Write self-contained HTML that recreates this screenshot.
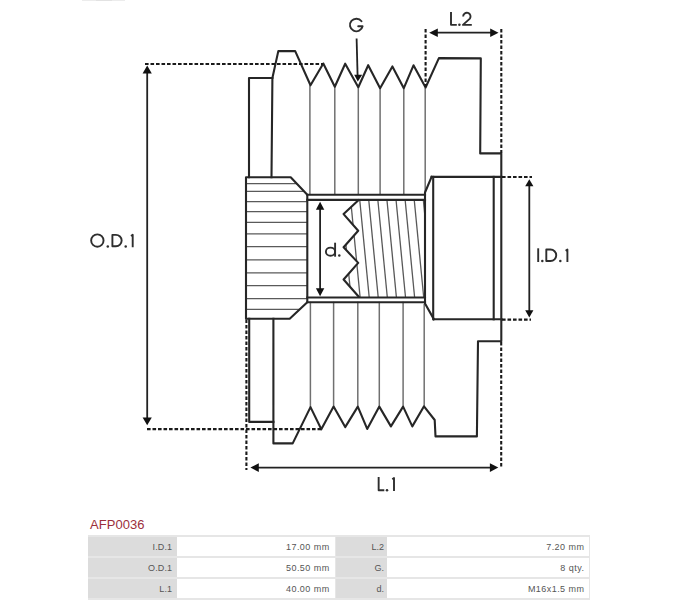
<!DOCTYPE html>
<html>
<head>
<meta charset="utf-8">
<style>
html,body{margin:0;padding:0;background:#fff;}
body{width:674px;height:600px;position:relative;overflow:hidden;font-family:"Liberation Sans",sans-serif;}
svg{position:absolute;left:0;top:0;}
.lbl{position:absolute;font-family:"Liberation Sans",sans-serif;color:#2a2a2a;white-space:nowrap;line-height:1;}
#code{position:absolute;left:90px;top:518px;font-size:13px;letter-spacing:0.05px;color:#9c2f3b;line-height:1;}
.c{position:absolute;box-sizing:border-box;font-size:9px;letter-spacing:0.45px;color:#555;text-align:right;white-space:nowrap;}
.k{background:#dcdcdc;letter-spacing:0.1px;}
.v{background:#fff;}
</style>
</head>
<body>
<svg width="674" height="600" viewBox="0 0 674 600">
  <defs>
    <clipPath id="thr">
      <polygon points="359.2,199.5 343.6,214.1 358.2,230.7 343.6,247.3 358.2,262.9 343.6,279.5 359.2,297.2 425,297.2 425,199.5"/>
    </clipPath>
    <clipPath id="knc">
      <polygon points="246,177.3 290.7,177.3 307.3,194.7 307.3,302.2 289.7,318.8 246,318.8"/>
    </clipPath>
  </defs>
  <!-- faint top line -->
  <line x1="82" y1="0.5" x2="125" y2="0.5" stroke="#ececec" stroke-width="1"/>
  <line x1="96" y1="0.5" x2="112" y2="0.5" stroke="#e2e2e2" stroke-width="1"/>

  <g fill="none" stroke="#707070" stroke-width="1.5">
    <!-- valley lines top -->
    <line x1="309.9" y1="85.3" x2="309.9" y2="194.7"/>
    <line x1="334.8" y1="86.7" x2="334.8" y2="194.7"/>
    <line x1="358.3" y1="87.2" x2="358.3" y2="194.7"/>
    <line x1="380.1" y1="88.2" x2="380.1" y2="194.7"/>
    <line x1="403.8" y1="88.2" x2="403.8" y2="194.7"/>
    <line x1="425.2" y1="87.5" x2="425.2" y2="192.5"/>
    <!-- valley lines bottom -->
    <line x1="310.4" y1="301.8" x2="310.4" y2="407.1"/>
    <line x1="333.6" y1="301.8" x2="333.6" y2="406.6"/>
    <line x1="357.8" y1="301.8" x2="357.8" y2="406.6"/>
    <line x1="379.3" y1="301.8" x2="379.3" y2="406.6"/>
    <line x1="403.1" y1="301.8" x2="403.1" y2="406.6"/>
    <line x1="424.2" y1="304" x2="424.2" y2="406.3"/>
  </g>

  <!-- knurl lines -->
  <g clip-path="url(#knc)" stroke="#5a5a5a" stroke-width="1.3">
    <line x1="246" y1="183.6" x2="310" y2="183.6"/>
    <line x1="246" y1="191.3" x2="310" y2="191.3"/>
    <line x1="246" y1="201.7" x2="310" y2="201.7"/>
    <line x1="246" y1="211.7" x2="310" y2="211.7"/>
    <line x1="246" y1="222.3" x2="310" y2="222.3"/>
    <line x1="246" y1="233.8" x2="310" y2="233.8"/>
    <line x1="246" y1="246.7" x2="310" y2="246.7"/>
    <line x1="246" y1="259.9" x2="310" y2="259.9"/>
    <line x1="246" y1="272.9" x2="310" y2="272.9"/>
    <line x1="246" y1="285.7" x2="310" y2="285.7"/>
    <line x1="246" y1="298.7" x2="310" y2="298.7"/>
    <line x1="246" y1="309.3" x2="310" y2="309.3"/>
  </g>

  <!-- thread lines -->
  <g clip-path="url(#thr)" stroke="#585858" stroke-width="1.3">
    <line x1="332.4" y1="199.5" x2="341.9" y2="297.2"/>
    <line x1="341.5" y1="199.5" x2="351.0" y2="297.2"/>
    <line x1="350.6" y1="199.5" x2="360.1" y2="297.2"/>
    <line x1="359.7" y1="199.5" x2="369.2" y2="297.2"/>
    <line x1="368.7" y1="199.5" x2="378.2" y2="297.2"/>
    <line x1="377.8" y1="199.5" x2="387.3" y2="297.2"/>
    <line x1="386.9" y1="199.5" x2="396.4" y2="297.2"/>
    <line x1="396.0" y1="199.5" x2="405.5" y2="297.2"/>
    <line x1="405.1" y1="199.5" x2="414.6" y2="297.2"/>
    <line x1="414.2" y1="199.5" x2="423.7" y2="297.2"/>
    <line x1="423.3" y1="199.5" x2="432.8" y2="297.2"/>
  </g>

  <!-- main outlines -->
  <g fill="none" stroke="#262626" stroke-width="2.1" stroke-linejoin="round" stroke-linecap="square">
    <!-- outer profile -->
    <polyline points="271.5,177.3 272.4,78 278.3,51.1 295.2,51.1 310.5,85.3 323.3,63.5 334.8,86.7 345.2,63.7 358.3,87.2 368.2,65.2 380.1,88.2 392.4,66.4 403.8,88.2 413.5,65.3 425.6,87.5 438.9,58.1 480.8,58.4 480.2,153.4 501.3,153.4 501.3,341.2 478,341.2 476.9,436.4 435.5,436.4 434.7,420 424,406.3 412.3,426.4 403.1,406.6 390.9,426.4 379.3,406.6 367.2,428.9 357.8,406.6 345.2,427.1 333.6,406.6 321.3,429.3 310.5,407.1 292.7,443.4 273.4,443.4 273.4,318.8"/>
    <!-- left box top -->
    <polyline points="249,177.3 249,78 272.4,78"/>
    <!-- left box bottom -->
    <polyline points="249.2,318.8 249.2,421.9 273.4,421.9"/>
    <!-- knurl block -->
    <polygon points="246,177.3 290.7,177.3 307.3,194.7 307.3,302.2 289.7,318.8 246,318.8"/>
    <!-- bore lines -->
    <line x1="307.3" y1="194.75" x2="425" y2="194.75"/>
    <line x1="307.3" y1="199.85" x2="425" y2="199.85"/>
    <line x1="307.3" y1="297.45" x2="425" y2="297.45"/>
    <line x1="307.3" y1="302.2" x2="425" y2="302.2"/>
    <!-- bore right wall + chamfers -->
    <polyline points="431.6,176.9 425,192.5 425,303.5 433.9,319.2"/>
    <!-- boss -->
    <line x1="431.6" y1="176.9" x2="501.5" y2="176.9"/>
    <line x1="433.9" y1="319.2" x2="501.5" y2="319.2"/>
    <line x1="433.2" y1="176.9" x2="433.2" y2="319.2"/>
    <line x1="493.7" y1="176.9" x2="493.7" y2="319.3"/>
    <!-- thread zigzag -->
    <polyline points="359.2,199.5 343.6,214.1 358.2,230.7 343.6,247.3 358.2,262.9 343.6,279.5 359.2,297.2" stroke-linecap="butt"/>
  </g>

  <!-- dashed dimension extension lines -->
  <g fill="none" stroke="#1a1a1a" stroke-width="2.1" stroke-dasharray="3.6 1.9">
    <line x1="145" y1="64" x2="323" y2="64"/>
    <line x1="147" y1="429.1" x2="321" y2="429.1"/>
    <line x1="425.6" y1="29" x2="425.6" y2="87"/>
    <line x1="501.3" y1="29" x2="501.3" y2="153"/>
    <line x1="246.4" y1="319.5" x2="246.4" y2="470"/>
    <line x1="501.2" y1="342" x2="501.2" y2="468"/>
    <line x1="502" y1="177" x2="532" y2="177"/>
    <line x1="502" y1="319.6" x2="531" y2="319.6"/>
  </g>

  <!-- arrows -->
  <g stroke="#222" stroke-width="1.8" fill="none">
    <line x1="147.2" y1="72" x2="147.2" y2="419"/>
    <line x1="436" y1="32.7" x2="492" y2="32.7"/>
    <line x1="256" y1="467.6" x2="492" y2="467.6"/>
    <line x1="529.3" y1="185" x2="529.3" y2="312"/>
    <line x1="356.6" y1="38.6" x2="357.6" y2="76"/>
    <line x1="320.1" y1="208" x2="320.1" y2="290"/>
  </g>
  <g fill="#111" stroke="none">
    <polygon points="147.2,65.5 142.6,73.5 151.8,73.5"/>
    <polygon points="147.2,425.2 142.6,417.6 151.8,417.6"/>
    <polygon points="429.2,32.7 437.8,28.5 437.8,36.9"/>
    <polygon points="498.5,32.7 490.2,28.5 490.2,36.9"/>
    <polygon points="250.4,467.6 258.8,463.3 258.8,471.9"/>
    <polygon points="498.3,467.6 489.9,463.3 489.9,471.9"/>
    <polygon points="529.3,179.3 525.2,186.2 533.4,186.2"/>
    <polygon points="529.3,317.4 525.2,310.2 533.4,310.2"/>
    <polygon points="357.8,81.6 354.2,74.8 362.2,74.8"/>
    <polygon points="320.1,201.8 315.9,209.8 324.3,209.8"/>
    <polygon points="320.1,296.2 315.9,288.2 324.3,288.2"/>
  </g>

  <!-- labels drawn as strokes (geometric font) -->
  <g fill="none" stroke="#2e2e2e" stroke-width="1.9" stroke-linejoin="round">
    <!-- G -->
    <path d="M361.53,21.3 A6.4,6.3 0 1 0 362.61,26.3 L358.2,26.3" stroke-linecap="round"/>
    <!-- L.2 -->
    <path d="M451,12.1 V24.85 H456.8"/>
    <path d="M463.15,16.45 A3.7,3.7 0 1 1 469.88,18.6 L462.9,24.85 H471.8"/>
    <!-- L.1 -->
    <path d="M378.65,477 V490.2 H384.3"/>
    <path d="M392.3,479.2 L394,478 V491.1"/>
    <!-- O.D.1 -->
    <circle cx="97.35" cy="240.55" r="6.2"/>
    <path d="M112.4,234.85 H115.95 A5.7,5.7 0 0 1 115.95,246.25 H112.4 Z"/>
    <path d="M131,236 L132.7,234.8 V247.2"/>
    <!-- I.D.1 -->
    <path d="M538.2,248.3 V262"/>
    <path d="M546.3,249.55 H550.5 A5.75,5.75 0 0 1 550.5,261.05 H546.3 Z"/>
    <path d="M565.6,250.7 L567.4,249.5 V262"/>
    <!-- d. -->
    <ellipse cx="330.5" cy="251.7" rx="4.6" ry="4.1"/>
    <path d="M335.1,242.7 V256.7"/>
  </g>
  <g fill="#2e2e2e">
    <circle cx="459.4" cy="24.85" r="1.25"/>
    <circle cx="387" cy="490.2" r="1.25"/>
    <circle cx="107.8" cy="246.6" r="1.25"/>
    <circle cx="125.7" cy="246.6" r="1.25"/>
    <circle cx="542.3" cy="261.1" r="1.25"/>
    <circle cx="560.3" cy="261.1" r="1.25"/>
    <circle cx="339.3" cy="255.6" r="1.25"/>
  </g>
</svg>

<div id="code">AFP0036</div>

<!-- table -->
<div style="position:absolute;left:88px;top:534.60px;width:501.6px;height:2.0px;background:#e6e6e6;"></div>
<div style="position:absolute;left:88px;top:555.75px;width:501.6px;height:2.0px;background:#e6e6e6;"></div>
<div style="position:absolute;left:88px;top:576.90px;width:501.6px;height:2.0px;background:#e6e6e6;"></div>
<div style="position:absolute;left:88px;top:598.05px;width:501.6px;height:2.0px;background:#e6e6e6;"></div>
<div class="c k" style="left:88px;top:536.60px;width:89.3px;height:19.15px;line-height:21.55px;padding-right:5.2px;">I.D.1</div>
<div class="c v" style="left:177.3px;top:536.60px;width:157.3px;height:19.15px;line-height:21.55px;padding-right:5.0px;">17.00 mm</div>
<div class="c k" style="left:335.6px;top:536.60px;width:51.8px;height:19.15px;line-height:21.55px;padding-right:3.2px;">L.2</div>
<div class="c v" style="left:387.4px;top:536.60px;width:201.2px;height:19.15px;line-height:21.55px;padding-right:4.2px;">7.20 mm</div>
<div class="c k" style="left:88px;top:557.75px;width:89.3px;height:19.15px;line-height:21.55px;padding-right:5.2px;">O.D.1</div>
<div class="c v" style="left:177.3px;top:557.75px;width:157.3px;height:19.15px;line-height:21.55px;padding-right:5.0px;">50.50 mm</div>
<div class="c k" style="left:335.6px;top:557.75px;width:51.8px;height:19.15px;line-height:21.55px;padding-right:3.2px;">G.</div>
<div class="c v" style="left:387.4px;top:557.75px;width:201.2px;height:19.15px;line-height:21.55px;padding-right:4.2px;">8 qty.</div>
<div class="c k" style="left:88px;top:578.90px;width:89.3px;height:19.15px;line-height:21.55px;padding-right:5.2px;">L.1</div>
<div class="c v" style="left:177.3px;top:578.90px;width:157.3px;height:19.15px;line-height:21.55px;padding-right:5.0px;">40.00 mm</div>
<div class="c k" style="left:335.6px;top:578.90px;width:51.8px;height:19.15px;line-height:21.55px;padding-right:3.2px;">d.</div>
<div class="c v" style="left:387.4px;top:578.90px;width:201.2px;height:19.15px;line-height:21.55px;padding-right:4.2px;">M16x1.5 mm</div>
<div style="position:absolute;left:334.6px;top:534.6px;width:1px;height:65.5px;background:#e6e6e6;"></div>
<div style="position:absolute;left:588.6px;top:534.6px;width:1.2px;height:65.5px;background:#e6e6e6;"></div>
</body>
</html>
